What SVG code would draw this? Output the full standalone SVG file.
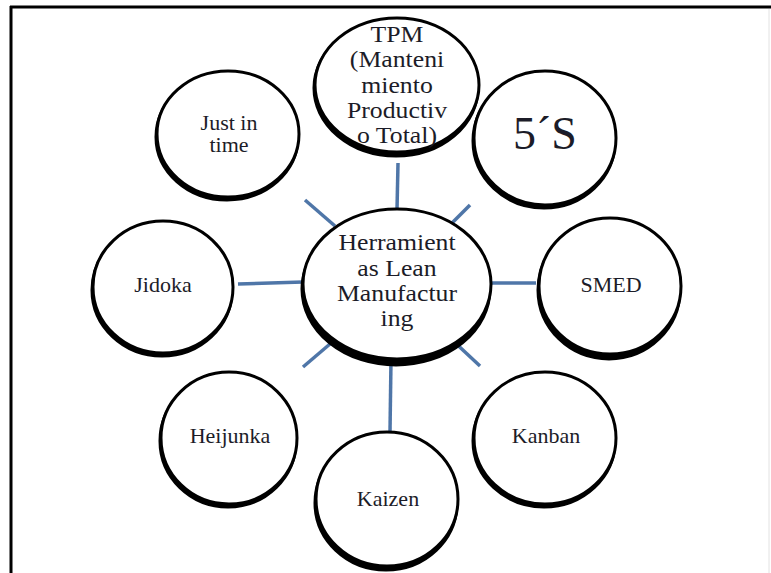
<svg xmlns="http://www.w3.org/2000/svg" width="771" height="573" viewBox="0 0 771 573">
<style>
.sh{fill:#000;stroke:#000;stroke-width:3}
.bd{fill:#fff;stroke:#000;stroke-width:3}
.t{font-family:"Liberation Serif","Times New Roman",serif;font-size:22px;fill:#1c1c28;text-anchor:middle}
.tb{font-size:23px}
.ts{font-size:20px}
.c{stroke:#4f76a8;stroke-width:3.5;fill:none}
</style>
<rect x="0" y="0" width="771" height="573" fill="#fff"/>
<g id="frame">
<line x1="10" y1="7" x2="771" y2="7" stroke="#000" stroke-width="3"/>
<line x1="11" y1="6" x2="11" y2="573" stroke="#000" stroke-width="3"/>
<line x1="769" y1="9" x2="769" y2="573" stroke="#e2e2e2" stroke-width="1"/>
</g>
<g id="connectors">
<line class="c" x1="398" y1="163" x2="397" y2="210"/>
<line class="c" x1="305" y1="200" x2="335" y2="226"/>
<line class="c" x1="452" y1="223" x2="470" y2="205"/>
<line class="c" x1="238" y1="284" x2="303" y2="282"/>
<line class="c" x1="490" y1="283" x2="536" y2="283"/>
<line class="c" x1="337" y1="338" x2="303" y2="367"/>
<line class="c" x1="450" y1="338" x2="480" y2="366"/>
<line class="c" x1="391" y1="360" x2="390" y2="432"/>
</g>
<g id="tpm">
<ellipse class="sh" cx="396" cy="88" rx="82" ry="68"/>
<ellipse class="bd" cx="397" cy="85" rx="82" ry="67"/>
<g transform="translate(397,0) scale(1.12,1)">
<text class="t tb" x="0" y="42">TPM</text>
<text class="t tb" x="0" y="67">(Manteni</text>
<text class="t tb" x="0" y="93">miento</text>
<text class="t tb" x="0" y="118">Productiv</text>
<text class="t tb" x="0" y="143">o Total)</text>
</g>
</g>
<g id="just-in-time">
<ellipse class="sh" cx="227" cy="137" rx="71" ry="63"/>
<ellipse class="bd" cx="228" cy="134" rx="71" ry="63"/>
<g transform="translate(229,0) scale(1.1,1)">
<text class="t ts" x="0" y="130">Just in</text>
<text class="t ts" x="0" y="152">time</text>
</g>
</g>
<g id="five-s">
<ellipse class="sh" cx="544" cy="141" rx="71" ry="67"/>
<ellipse class="bd" cx="545" cy="138" rx="71" ry="67"/>
<text class="t" x="545" y="149" style="font-size:46px">5´S</text>
</g>
<g id="center">
<ellipse class="sh" cx="396" cy="289" rx="94" ry="76"/>
<ellipse class="bd" cx="397" cy="284" rx="94" ry="75"/>
<g transform="translate(397,0) scale(1.12,1)">
<text class="t tb" x="0" y="250">Herramient</text>
<text class="t tb" x="0" y="276">as Lean</text>
<text class="t tb" x="0" y="301">Manufactur</text>
<text class="t tb" x="0" y="326">ing</text>
</g>
</g>
<g id="jidoka">
<ellipse class="sh" cx="162" cy="290" rx="70" ry="66"/>
<ellipse class="bd" cx="163" cy="287" rx="70" ry="66"/>
<text class="t" x="163" y="292">Jidoka</text>
</g>
<g id="smed">
<ellipse class="sh" cx="609" cy="290" rx="71" ry="69"/>
<ellipse class="bd" cx="610" cy="286" rx="71" ry="68"/>
<text class="t" x="611" y="292">SMED</text>
</g>
<g id="heijunka">
<ellipse class="sh" cx="228" cy="441" rx="68" ry="66"/>
<ellipse class="bd" cx="229" cy="438" rx="68" ry="66"/>
<text class="t" x="230" y="443">Heijunka</text>
</g>
<g id="kaizen">
<ellipse class="sh" cx="386" cy="503" rx="71" ry="67"/>
<ellipse class="bd" cx="387" cy="499" rx="71" ry="67"/>
<text class="t" x="388" y="506">Kaizen</text>
</g>
<g id="kanban">
<ellipse class="sh" cx="544" cy="441" rx="71" ry="66"/>
<ellipse class="bd" cx="545" cy="438" rx="71" ry="66"/>
<text class="t" x="546" y="443">Kanban</text>
</g>
</svg>
